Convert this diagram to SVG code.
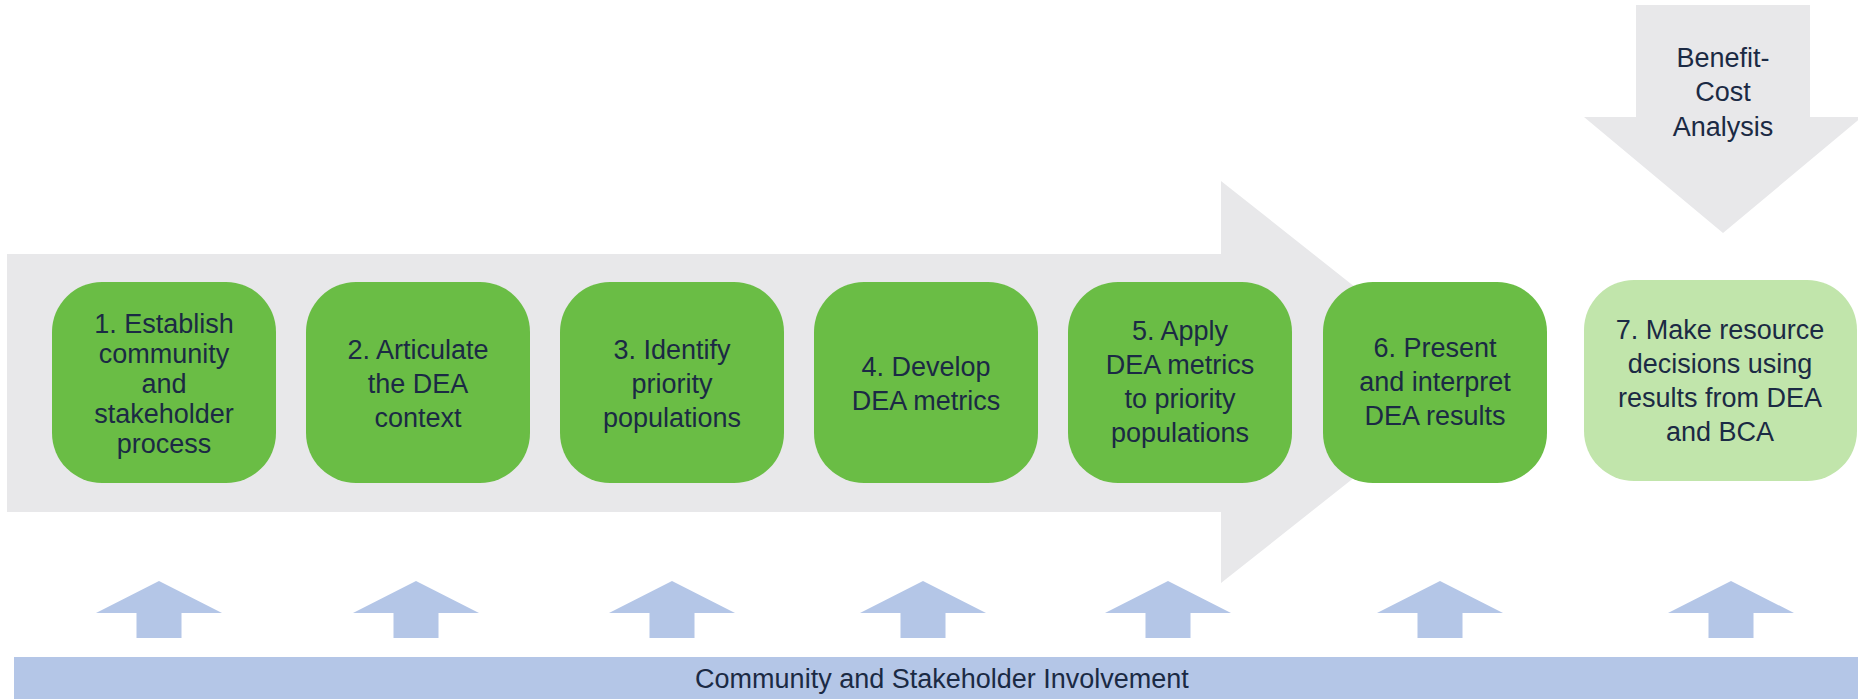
<svg xmlns="http://www.w3.org/2000/svg" width="1858" height="699" viewBox="0 0 1858 699">
<style>
.t{font-family:"Liberation Sans",Arial,sans-serif;font-size:27px;fill:#1b2a44;text-anchor:middle}
.g{fill:#6abd45}
.lg{fill:#c1e5ab}
.grey{fill:#e8e8ea}
.blue{fill:#b4c6e7}
</style>
<defs>
<path id="up" d="M0,0 L63,32 L22.5,32 L22.5,57 L-22.5,57 L-22.5,32 L-63,32 Z" class="blue"/>
</defs>
<g id="process-arrow">
<polygon class="grey" points="7,254 1221,254 1221,181 1475,382 1221,583 1221,512 7,512"/>
</g>
<g id="bca-arrow">
<polygon class="grey" points="1636,5 1810,5 1810,117 1862,117 1723,233 1584,117 1636,117"/>
<text class="t" x="1723" y="67">Benefit-</text>
<text class="t" x="1723" y="101">Cost</text>
<text class="t" x="1723" y="136">Analysis</text>
</g>
<g id="step1"><rect class="g" x="52" y="282" width="224" height="201" rx="50"/>
<text class="t" x="164" y="333">1. Establish</text><text class="t" x="164" y="363">community</text><text class="t" x="164" y="393">and</text><text class="t" x="164" y="423">stakeholder</text><text class="t" x="164" y="453">process</text></g>
<g id="step2"><rect class="g" x="306" y="282" width="224" height="201" rx="50"/>
<text class="t" x="418" y="359">2. Articulate</text><text class="t" x="418" y="393">the DEA</text><text class="t" x="418" y="427">context</text></g>
<g id="step3"><rect class="g" x="560" y="282" width="224" height="201" rx="50"/>
<text class="t" x="672" y="359">3. Identify</text><text class="t" x="672" y="393">priority</text><text class="t" x="672" y="427">populations</text></g>
<g id="step4"><rect class="g" x="814" y="282" width="224" height="201" rx="50"/>
<text class="t" x="926" y="376">4. Develop</text><text class="t" x="926" y="410">DEA metrics</text></g>
<g id="step5"><rect class="g" x="1068" y="282" width="224" height="201" rx="50"/>
<text class="t" x="1180" y="340">5. Apply</text><text class="t" x="1180" y="374">DEA metrics</text><text class="t" x="1180" y="408">to priority</text><text class="t" x="1180" y="442">populations</text></g>
<g id="step6"><rect class="g" x="1323" y="282" width="224" height="201" rx="50"/>
<text class="t" x="1435" y="357">6. Present</text><text class="t" x="1435" y="391">and interpret</text><text class="t" x="1435" y="425">DEA results</text></g>
<g id="step7"><rect class="lg" x="1584" y="280" width="273" height="201" rx="50"/>
<text class="t" x="1720" y="339">7. Make resource</text><text class="t" x="1720" y="373">decisions using</text><text class="t" x="1720" y="407">results from DEA</text><text class="t" x="1720" y="441">and BCA</text></g>
<g id="connectors">
<use href="#up" x="159" y="581"/>
<use href="#up" x="416" y="581"/>
<use href="#up" x="672" y="581"/>
<use href="#up" x="923" y="581"/>
<use href="#up" x="1168" y="581"/>
<use href="#up" x="1440" y="581"/>
<use href="#up" x="1731" y="581"/>
</g>
<g id="involvement">
<rect class="blue" x="14" y="657" width="1844" height="42"/>
<text class="t" x="942" y="688">Community and Stakeholder Involvement</text>
</g>
</svg>
